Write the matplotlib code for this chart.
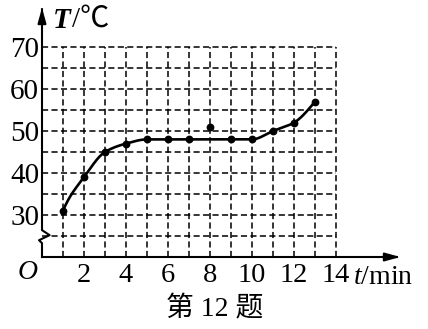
import matplotlib
matplotlib.use("Agg")
import matplotlib.pyplot as plt
import numpy as np


# data
time_min = [1, 2, 3, 4, 5, 6, 7, 8, 9, 10, 11, 12, 13]
temp_c = [31, 39, 45, 47, 48, 48, 48, 51, 48, 48, 50, 52, 57]
outlier_time = 8  # the point that the curve skips

x_ticks = [2, 4, 6, 8, 10, 12, 14]
y_ticks = [30, 40, 50, 60, 70]
grid_x = list(range(1, 15))
grid_y = list(range(25, 75, 5))

plt.rcParams["font.family"] = ["Liberation Serif", "Noto Sans CJK SC"]
plt.rcParams["mathtext.fontset"] = "custom"
plt.rcParams["mathtext.rm"] = "Liberation Serif"
plt.rcParams["mathtext.it"] = "Liberation Serif:italic"


def pchip(x, y, xs):
    x = np.asarray(x, float)
    y = np.asarray(y, float)
    h = np.diff(x)
    d = np.diff(y) / h
    m = np.zeros_like(y)
    for k in range(1, len(x) - 1):
        if d[k - 1] * d[k] > 0:
            w1 = 2 * h[k] + h[k - 1]
            w2 = h[k] + 2 * h[k - 1]
            m[k] = (w1 + w2) / (w1 / d[k - 1] + w2 / d[k])
    m[0] = d[0] * 1.5
    m[-1] = d[-1] * 1.2
    idx = np.clip(np.searchsorted(x, xs) - 1, 0, len(x) - 2)
    t = (xs - x[idx]) / h[idx]
    h00 = 2 * t**3 - 3 * t**2 + 1
    h10 = t**3 - 2 * t**2 + t
    h01 = -2 * t**3 + 3 * t**2
    h11 = t**3 - t**2
    return (h00 * y[idx] + h10 * h[idx] * m[idx]
            + h01 * y[idx + 1] + h11 * h[idx] * m[idx + 1])


fig = plt.figure(figsize=(4.28, 3.29), dpi=100)
ax = fig.add_axes([42 / 428, 72 / 329, 361 / 428, 252 / 329])
ax.set_xlim(0, 17.19)
ax.set_ylim(20, 80)
for side in ax.spines.values():
    side.set_visible(False)

# dashed grid, only inside the 0..14 x 20..70 box
ax.vlines(grid_x, 20, 70, colors="black", linestyles=(0, (4, 2.2)), lw=1.1)
ax.hlines(grid_y, 0, 14, colors="black", linestyles=(0, (4, 2.2)), lw=1.1)

# axes with arrows and a break mark on the T axis
ax.plot([0, 16.9], [20, 20], color="black", lw=1.5, clip_on=False)
ax.plot([0, 0, -0.14, 0.36, 0, 0], [20, 23.3, 24.0, 25.2, 26.4, 79],
        color="black", lw=1.5, clip_on=False)
arrow = dict(arrowstyle="-|>,head_length=0.9,head_width=0.25",
             color="black", lw=1.5)
ax.annotate("", xy=(17.19, 20), xytext=(16.5, 20), arrowprops=arrow,
            annotation_clip=False)
ax.annotate("", xy=(0, 80), xytext=(0, 77), arrowprops=arrow,
            annotation_clip=False)

# smooth curve through the points, skipping the outlier
curve_t = [t for t in time_min if t != outlier_time]
curve_T = [v for t, v in zip(time_min, temp_c) if t != outlier_time]
xs = np.linspace(curve_t[0], curve_t[-1], 300)
ax.plot(xs, pchip(curve_t, curve_T, xs), color="black", lw=1.9,
        solid_capstyle="round")
ax.plot(time_min, temp_c, "o", color="black", markersize=4.6)

ax.set_xticks(x_ticks)
ax.set_yticks(y_ticks)
ax.tick_params(axis="both", length=0)
ax.tick_params(axis="x", pad=4, labelsize=20.5)
ax.tick_params(axis="y", pad=2, labelsize=21)

ax.text(-0.67, 16.4, "O", fontsize=20, style="italic", ha="center",
        va="center")
ax.text(0.5, 76.4, "T", fontsize=21, style="italic", weight="bold",
        ha="left", va="center")
ax.text(1.42, 76.4, "/℃", fontsize=21, ha="left", va="center")
ax.text(14.8, 15.2, r"$t$/min", fontsize=20, ha="left", va="center")

fig.text(215 / 428, 1 - 309 / 329, "第 12 题", fontsize=20, ha="center",
         va="center")

fig.savefig("out.png", dpi=100)
